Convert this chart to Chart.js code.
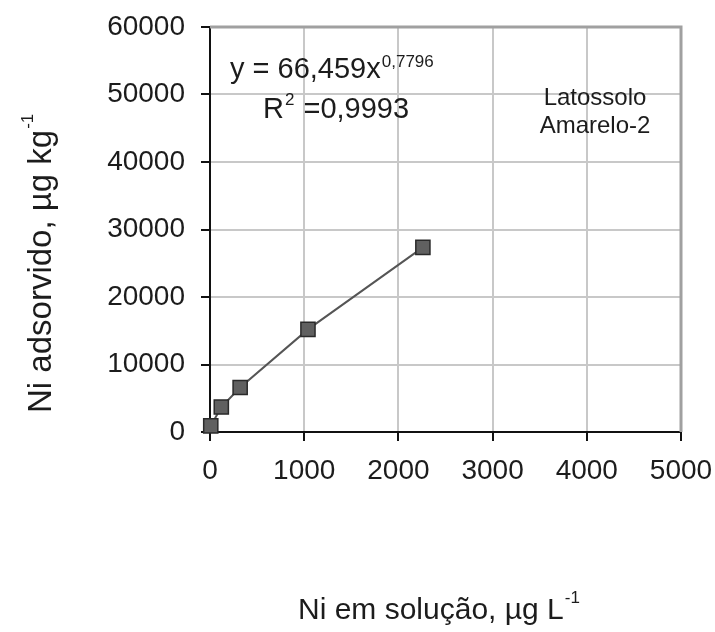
<!DOCTYPE html>
<html>
<head>
<meta charset="utf-8">
<script src="https://cdn.jsdelivr.net/npm/chart.js@4"></script>
<style>
html,body{margin:0;padding:0;background:#fff;}
canvas{display:block;}
</style>
</head>
<body>
<canvas id="c" width="715" height="632"></canvas>
<script>
// Data
const niSolucao = [8, 120, 320, 1040, 2260];         // µg L-1
const niAdsorvido = [900, 3700, 6600, 15200, 27350]; // µg kg-1
const xTicks = [0, 1000, 2000, 3000, 4000, 5000];
const yTicks = [0, 10000, 20000, 30000, 40000, 50000, 60000];
const equationText = "y = 66,459x";
const equationExp = "0,7796";
const r2Label = "R";
const r2Value = " =0,9993";
const soilLines = ["Latossolo", "Amarelo-2"];
const xTitle = "Ni em solução, µg L";
const yTitle = "Ni adsorvido, µg kg";
const unitExp = "-1";

const points = niSolucao.map((x, i) => ({x: x, y: niAdsorvido[i]}));
const FONT = "'Liberation Sans', Arial, sans-serif";
const TXT = '#1c1c1c';

const textPlugin = {
  id: 'texts',
  afterDraw(chart) {
    const ctx = chart.ctx;
    const a = chart.chartArea;
    ctx.save();
    ctx.fillStyle = TXT;
    ctx.textBaseline = 'alphabetic';
    ctx.textAlign = 'left';
    // equation
    ctx.font = "29px " + FONT;
    ctx.fillText(equationText, 230, 78);
    let w = ctx.measureText(equationText).width;
    ctx.font = "17px " + FONT;
    ctx.fillText(equationExp, 230 + w + 1, 67);
    // R2
    ctx.font = "29px " + FONT;
    ctx.fillText(r2Label, 263, 118);
    w = ctx.measureText(r2Label).width;
    ctx.font = "17px " + FONT;
    ctx.fillText("2", 263 + w + 1, 105);
    const w2 = ctx.measureText("2").width;
    ctx.font = "29px " + FONT;
    ctx.fillText(r2Value, 263 + w + w2 + 2, 118);
    // soil label
    ctx.font = "24px " + FONT;
    ctx.textAlign = 'center';
    ctx.fillText(soilLines[0], 595, 105);
    ctx.fillText(soilLines[1], 595, 133);

    // x title
    ctx.textAlign = 'left';
    ctx.font = "30px " + FONT;
    ctx.fillText(xTitle, 298, 619);
    w = ctx.measureText(xTitle).width;
    ctx.font = "17px " + FONT;
    ctx.fillText(unitExp, 298 + w + 1, 603);

    // y title (rotated)
    ctx.translate(51, 413);
    ctx.rotate(-Math.PI / 2);
    ctx.font = "33px " + FONT;
    ctx.fillText(yTitle, 0, 0);
    w = ctx.measureText(yTitle).width;
    ctx.font = "17px " + FONT;
    ctx.fillText(unitExp, w + 1, -18);
    ctx.restore();
  },
  beforeDatasetsDraw(chart) {
    const ctx = chart.ctx;
    const a = chart.chartArea;
    ctx.save();
    // top and right frame lines
    ctx.strokeStyle = '#a0a0a0';
    ctx.lineWidth = 3;
    ctx.beginPath();
    ctx.moveTo(a.left, a.top);
    ctx.lineTo(a.right, a.top);
    ctx.lineTo(a.right, a.bottom);
    ctx.stroke();
    ctx.restore();
  }
};

const gridColor = (ctx, max) => ctx.tick && ctx.tick.value === max ? 'rgba(0,0,0,0)' : '#c8c8c8';

new Chart(document.getElementById('c'), {
  type: 'scatter',
  data: {
    datasets: [{
      data: points,
      showLine: true,
      clip: false,
      borderColor: '#555555',
      borderWidth: 2,
      pointStyle: 'rect',
      pointRadius: 10,
      pointBackgroundColor: '#606060',
      pointBorderColor: '#2a2a2a',
      pointBorderWidth: 1.5,
      tension: 0
    }]
  },
  options: {
    responsive: false,
    animation: false,
    devicePixelRatio: 1,
    layout: {padding: {top: 27, right: 34, left: 0, bottom: 0}},
    plugins: {legend: {display: false}, tooltip: {enabled: false}},
    scales: {
      x: {
        type: 'linear',
        min: xTicks[0], max: xTicks[xTicks.length - 1],
        afterBuildTicks: s => { s.ticks = xTicks.map(v => ({value: v})); },
        afterFit: s => { s.height = 200; s.paddingLeft = 0; s.paddingRight = 0; },
        ticks: {
          color: TXT, font: {family: FONT, size: 28}, padding: 13,
          maxRotation: 0, autoSkip: false,
          callback: v => String(v)
        },
        grid: {
          color: c => gridColor(c, 5000), lineWidth: 2,
          tickColor: '#111', tickLength: 9, tickWidth: 2
        },
        border: {color: '#111', width: 2}
      },
      y: {
        type: 'linear',
        min: yTicks[0], max: yTicks[yTicks.length - 1],
        afterBuildTicks: s => { s.ticks = yTicks.map(v => ({value: v})); },
        afterFit: s => { s.width = 210; s.paddingTop = 0; s.paddingBottom = 0; },
        ticks: {
          color: TXT, font: {family: FONT, size: 28}, padding: 16,
          autoSkip: false,
          callback: v => String(v)
        },
        grid: {
          color: c => gridColor(c, 60000), lineWidth: 2,
          tickColor: '#111', tickLength: 9, tickWidth: 2
        },
        border: {color: '#111', width: 2}
      }
    }
  },
  plugins: [textPlugin]
});
</script>
</body>
</html>
